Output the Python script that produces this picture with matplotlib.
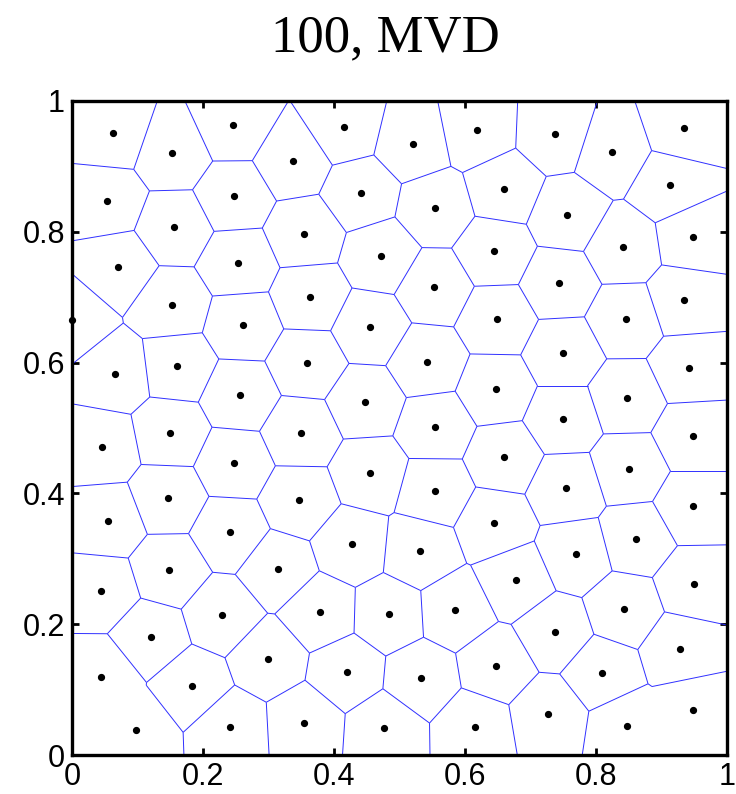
import numpy as np
import matplotlib
matplotlib.use('Agg')
import matplotlib.pyplot as plt
from matplotlib.collections import LineCollection

# generator positions after the MVD iterations (unit square)
gen_x = [0.063, 0.153, 0.246, 0.053, 0.247, 0.156, 0.070, 0.254, 0.152, 0.416,
         0.337, 0.520, 0.619, 0.441, 0.660, 0.555, 0.355, 0.645, 0.472, 0.363,
         0.553, 0.649, 0.738, 0.825, 0.934, 0.913, 0.756, 0.948, 0.842, 0.744,
         0.934, 0.846, 0.000, 0.261, 0.066, 0.161, 0.256, 0.150, 0.046, 0.247,
         0.146, 0.055, 0.241, 0.455, 0.359, 0.542, 0.647, 0.448, 0.555, 0.349,
         0.660, 0.455, 0.554, 0.347, 0.645, 0.750, 0.942, 0.847, 0.750, 0.948,
         0.850, 0.755, 0.948, 0.861, 0.148, 0.314, 0.045, 0.229, 0.120, 0.299,
         0.044, 0.184, 0.097, 0.242, 0.427, 0.531, 0.379, 0.484, 0.585, 0.648,
         0.420, 0.533, 0.355, 0.477, 0.615, 0.769, 0.678, 0.950, 0.843, 0.737,
         0.929, 0.809, 0.727, 0.948, 0.847]
gen_y = [0.951, 0.920, 0.963, 0.847, 0.854, 0.807, 0.746, 0.752, 0.688, 0.960,
         0.908, 0.935, 0.955, 0.859, 0.866, 0.836, 0.797, 0.770, 0.763, 0.700,
         0.715, 0.666, 0.950, 0.922, 0.959, 0.871, 0.826, 0.792, 0.776, 0.721,
         0.695, 0.666, 0.665, 0.658, 0.583, 0.595, 0.550, 0.492, 0.471, 0.446,
         0.393, 0.358, 0.341, 0.654, 0.600, 0.601, 0.559, 0.540, 0.502, 0.493,
         0.455, 0.431, 0.404, 0.390, 0.354, 0.615, 0.591, 0.546, 0.514, 0.488,
         0.438, 0.408, 0.380, 0.331, 0.283, 0.285, 0.251, 0.214, 0.181, 0.147,
         0.120, 0.106, 0.038, 0.043, 0.322, 0.312, 0.218, 0.215, 0.221, 0.136,
         0.127, 0.117, 0.049, 0.041, 0.043, 0.307, 0.267, 0.261, 0.223, 0.188,
         0.162, 0.126, 0.062, 0.069, 0.044]

x_ticks = [0, 0.2, 0.4, 0.6, 0.8, 1]
x_ticklabels = ['0', '0.2', '0.4', '0.6', '0.8', '1']


def clip_halfplane(poly, nx, ny, c):
    # keep the part of poly where nx*x + ny*y <= c
    out = []
    n = len(poly)
    for k in range(n):
        p = poly[k]
        q = poly[(k + 1) % n]
        dp = nx * p[0] + ny * p[1] - c
        dq = nx * q[0] + ny * q[1] - c
        if dp <= 0:
            out.append(p)
        if dp * dq < 0:
            t = dp / (dp - dq)
            out.append((p[0] + t * (q[0] - p[0]), p[1] + t * (q[1] - p[1])))
    return out


def voronoi_cells(pts):
    cells = []
    for i, p in enumerate(pts):
        poly = [(0.0, 0.0), (1.0, 0.0), (1.0, 1.0), (0.0, 1.0)]
        for j, q in enumerate(pts):
            if i == j:
                continue
            d = q - p
            poly = clip_halfplane(poly, d[0], d[1], (q @ q - p @ p) / 2)
            if not poly:
                break
        cells.append(poly)
    return cells


def hull_edges(pts):
    # monotone chain, returns set of index pairs along the convex hull
    order = sorted(range(len(pts)), key=lambda k: (pts[k][0], pts[k][1]))

    def cross(o, a, b):
        return ((pts[a][0] - pts[o][0]) * (pts[b][1] - pts[o][1])
                - (pts[a][1] - pts[o][1]) * (pts[b][0] - pts[o][0]))

    lower, upper = [], []
    for k in order:
        while len(lower) >= 2 and cross(lower[-2], lower[-1], k) <= 0:
            lower.pop()
        lower.append(k)
    for k in reversed(order):
        while len(upper) >= 2 and cross(upper[-2], upper[-1], k) <= 0:
            upper.pop()
        upper.append(k)
    hull = lower[:-1] + upper[:-1]
    return {frozenset((hull[k], hull[(k + 1) % len(hull)])) for k in range(len(hull))}


def on_border(a, b, eps=1e-9):
    for k in (0, 1):
        for v in (0.0, 1.0):
            if abs(a[k] - v) < eps and abs(b[k] - v) < eps:
                return True
    return False


pts = np.column_stack([gen_x, gen_y])
cells = voronoi_cells(pts)
outer = hull_edges(pts)

# only ridges shared by two Delaunay triangles are drawn (no rays to infinity)
segs = []
for i, poly in enumerate(cells):
    for k in range(len(poly)):
        a, b = poly[k], poly[(k + 1) % len(poly)]
        if on_border(a, b):
            continue
        m = (np.array(a) + np.array(b)) / 2
        dist = np.hypot(pts[:, 0] - m[0], pts[:, 1] - m[1])
        dist[i] = np.inf
        j = int(np.argmin(dist))
        if j < i or frozenset((i, j)) in outer:
            continue
        segs.append([a, b])

fig = plt.figure(figsize=(7.36, 7.94), dpi=100)
ax = fig.add_axes([0.0978, 0.0491, 0.8899, 0.8237])

ax.add_collection(LineCollection(segs, colors='#3030ff', linewidths=0.7))
ax.plot(gen_x, gen_y, 'o', color='black', markersize=4.2, clip_on=False, zorder=3)

ax.set_xlim(0, 1)
ax.set_ylim(0, 1)
ax.set_xticks(x_ticks)
ax.set_xticklabels(x_ticklabels)
ax.set_yticks(x_ticks)
ax.set_yticklabels(x_ticklabels)
ax.tick_params(direction='in', length=5, width=2, top=True, right=True,
               labelsize=22, pad=5)
ax.tick_params(axis='y', pad=5)
for lab in ax.get_xticklabels() + ax.get_yticklabels():
    lab.set_fontfamily('Liberation Sans')
for sp in ax.spines.values():
    sp.set_linewidth(2.4)

fig.text(0.523, 0.935, '100, MVD', ha='center', va='baseline',
         fontsize=38, family='Liberation Serif')

fig.savefig('out.png', dpi=100)
